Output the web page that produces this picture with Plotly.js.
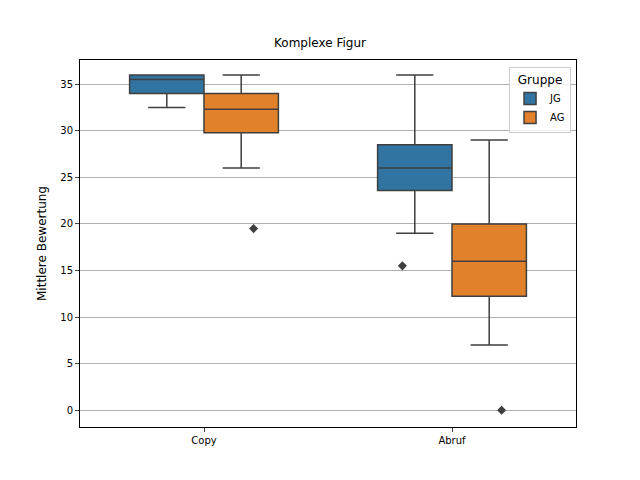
<!DOCTYPE html>
<html>
<head>
<meta charset="utf-8">
<script src="https://cdn.plot.ly/plotly-3.0.1.min.js"></script>
<style>body{margin:0}</style>
</head>
<body>
<div id="chart" style="width:640px;height:480px"></div>
<script>
// Kategorien und Kennwerte je Gruppe
const cats = ['Copy', 'Abruf'];
const jgLow = [32.5, 19], jgQ1 = [34, 23.6], jgMed = [35.5, 26], jgQ3 = [36, 28.5], jgHigh = [36, 36];
const agLow = [26, 7], agQ1 = [29.8, 12.25], agMed = [32.3, 16], agQ3 = [34, 20], agHigh = [36, 29];
const jgOutX = ['Abruf'], jgOutY = [15.5];
const agOutX = ['Copy', 'Abruf'], agOutY = [19.5, 0];

const blue = '#3274a1', orange = '#e1812c', edge = '#3f3f3f';

function box(name, color, lo, q1, med, q3, hi) {
  return {
    type: 'box', name: name, x: cats, q1: q1, median: med, q3: q3,
    lowerfence: lo, upperfence: hi, offsetgroup: name,
    fillcolor: color, line: {color: edge, width: 1.5}, whiskerwidth: 0.5,
    boxpoints: false
  };
}
function out(name, xs, ys) {
  return {
    type: 'scatter', mode: 'markers', x: xs, y: ys, offsetgroup: name,
    showlegend: false, hoverinfo: 'y',
    marker: {symbol: 'diamond', size: 7, color: edge}
  };
}

const data = [
  box('JG', blue, jgLow, jgQ1, jgMed, jgQ3, jgHigh),
  box('AG', orange, agLow, agQ1, agMed, agQ3, agHigh),
  out('JG', jgOutX, jgOutY),
  out('AG', agOutX, agOutY)
];

const layout = {
  width: 640, height: 480,
  font: {family: 'DejaVu Sans', size: 10, color: '#000'},
  title: {text: 'Komplexe Figur', x: 0.5, y: 0.91, yanchor: 'middle', font: {size: 12}},
  margin: {l: 80, r: 64, t: 60, b: 53},
  boxmode: 'group', scattermode: 'group', boxgap: 0.4, boxgroupgap: 0,
  paper_bgcolor: '#fff', plot_bgcolor: '#fff',
  xaxis: {showline: true, mirror: true, linecolor: '#000', ticks: 'outside', ticklen: 4},
  yaxis: {
    title: {text: 'Mittlere Bewertung'}, range: [-1.8, 37.6], tickvals: [0, 5, 10, 15, 20, 25, 30, 35],
    showgrid: true, gridcolor: '#b0b0b0', zeroline: false,
    showline: true, mirror: true, linecolor: '#000', ticks: 'outside', ticklen: 4
  },
  legend: {
    title: {text: 'Gruppe', side: 'top center'}, x: 0.99, y: 0.98, xanchor: 'right', yanchor: 'top',
    bordercolor: '#ccc', borderwidth: 1, bgcolor: 'rgba(255,255,255,0.8)'
  },
  showlegend: true
};

Plotly.newPlot('chart', data, layout, {displayModeBar: false});
</script>
</body>
</html>
